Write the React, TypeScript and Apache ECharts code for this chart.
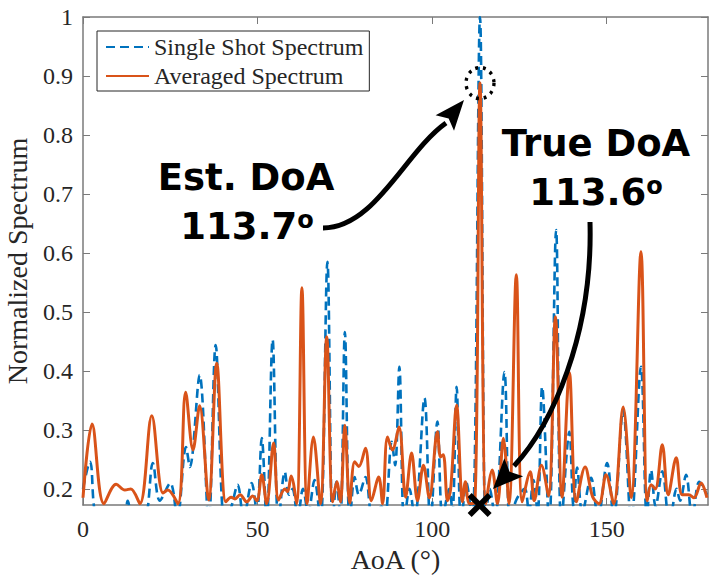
import React, { useEffect, useRef } from "react";
import * as echarts from "echarts";

// ---- data ----
const seriesNames = ["Single Shot Spectrum", "Averaged Spectrum"];

const aoaSingle = [
  0, 2, 4.5, 11.5, 12.8, 14.3, 17.5, 20, 22, 25, 27, 29.5, 30.6, 33.4, 36, 38, 40.6, 42.5, 44.3, 46,
  48.3, 49.8, 51.2, 52.6, 54.3, 56, 57.8, 59, 60, 61.5, 63, 64.5, 66.3, 68, 70, 71.5, 72.6, 73.7, 75, 76.4,
  77.8, 79, 80.9, 83, 85.5, 86.5, 88.4, 89.4, 90.6, 92, 93.5, 95, 97.8, 99.5, 101.5, 103, 104.9, 105.8, 107, 108.3,
  109.8, 111.5, 113.7, 115.3, 116.5, 118, 120.7, 122.3, 124, 126.5, 127.7, 129, 130.2, 131.5, 133.5, 135.5, 137, 139.3, 140.5, 141.5,
  143, 145.5, 147.5, 150.1, 152, 154.7, 157, 159.8, 161.5, 162.7, 164, 165.9, 168, 170, 171, 172.7, 174.5, 176.5, 178.7,
];
const singleSpectrum = [
  0.2, 0.246, 0.15, 0.15, 0.18, 0.15, 0.15, 0.244, 0.18, 0.21, 0.15, 0.271, 0.237, 0.393, 0.14, 0.444, 0.14, 0.17, 0.207, 0.15,
  0.21, 0.16, 0.286, 0.14, 0.453, 0.14, 0.229, 0.19, 0.2, 0.15, 0.2, 0.16, 0.215, 0.14, 0.585, 0.14, 0.212, 0.15, 0.466, 0.14,
  0.22, 0.19, 0.22, 0.15, 0.17, 0.15, 0.28, 0.24, 0.407, 0.14, 0.2, 0.15, 0.354, 0.14, 0.314, 0.15, 0.2, 0.16, 0.373, 0.14,
  0.21, 0.14, 1.0, 0.14, 0.2, 0.15, 0.398, 0.14, 0.18, 0.2, 0.16, 0.215, 0.16, 0.373, 0.14, 0.639, 0.14, 0.297, 0.17, 0.236,
  0.16, 0.219, 0.15, 0.244, 0.15, 0.334, 0.14, 0.407, 0.15, 0.232, 0.17, 0.23, 0.14, 0.2, 0.18, 0.224, 0.15, 0.212, 0.19,
];

const aoaAveraged = [
  0, 2.6, 6, 9.5, 12, 13.7, 16.3, 19.7, 22.9, 24.3, 27.2, 29.4, 31.5, 33.4, 36, 38.3, 40.9, 42.4, 43.5, 45,
  46.9, 48.6, 49.8, 51.2, 52.6, 54.6, 56, 57.8, 58.6, 59.6, 61.2, 62.7, 64.2, 66, 68, 69.8, 71.5, 72.7, 73.7, 75,
  76.4, 77.8, 79, 80.9, 82.6, 84.7, 85.8, 87.2, 88.6, 90.5, 92.4, 94.1, 95.8, 97.5, 99.2, 101.5, 102.4, 103.2, 104.4, 105.3,
  107, 108.7, 109.5, 110.7, 112.2, 113.7, 115.4, 117.2, 118.7, 120.4, 122, 124.1, 125.8, 128.1, 129.2, 131.3, 133.3, 135.3, 137.2, 139.3,
  141.3, 143.8, 146, 147.8, 149.8, 152, 154.7, 157, 159.8, 161.6, 162.7, 163.9, 165.9, 167.6, 169.9, 171.6, 173.5, 175, 177, 178.7,
];
const averagedSpectrum = [
  0.185, 0.31, 0.175, 0.208, 0.198, 0.2, 0.175, 0.324, 0.193, 0.198, 0.175, 0.364, 0.266, 0.341, 0.181, 0.413, 0.178, 0.186, 0.183, 0.19,
  0.178, 0.188, 0.18, 0.224, 0.175, 0.278, 0.181, 0.2, 0.195, 0.222, 0.175, 0.541, 0.175, 0.288, 0.175, 0.458, 0.178, 0.212, 0.178, 0.308,
  0.176, 0.246, 0.238, 0.269, 0.18, 0.22, 0.175, 0.288, 0.266, 0.305, 0.186, 0.261, 0.18, 0.24, 0.185, 0.297, 0.254, 0.258, 0.18, 0.2,
  0.342, 0.178, 0.212, 0.175, 0.176, 0.888, 0.175, 0.232, 0.175, 0.286, 0.175, 0.563, 0.178, 0.229, 0.18, 0.24, 0.188, 0.492, 0.186, 0.397,
  0.178, 0.237, 0.186, 0.175, 0.224, 0.175, 0.339, 0.185, 0.602, 0.18, 0.207, 0.2, 0.275, 0.19, 0.253, 0.19, 0.19, 0.185, 0.21, 0.185,
];

const xTicks = [0, 50, 100, 150];
const yTicks = [0.2, 0.3, 0.4, 0.5, 0.6, 0.7, 0.8, 0.9, 1];
const X_MIN = 0;
const X_MAX = 179;
const Y_MIN = 0.1727;
const Y_MAX = 1;

const trueDoA = 113.6;
const estDoA = 113.7;
const estPeak = 0.888;

const BLUE = "#0072BD";
const ORANGE = "#D95319";
const SERIF = "'Liberation Serif', 'Times New Roman', serif";
const SANS = "'DejaVu Sans', sans-serif";
const AXIS_COLOR = "#7a7a7a";
const TEXT_COLOR = "#262626";

function zip(xs: number[], ys: number[]) {
  return xs.map((x, i) => [x, ys[i]]);
}

function arrowHead(tip: [number, number], dir: [number, number], len: number, half: number) {
  const n = Math.hypot(dir[0], dir[1]);
  const dx = dir[0] / n;
  const dy = dir[1] / n;
  const bx = tip[0] - dx * len;
  const by = tip[1] - dy * len;
  const px = -dy;
  const py = dx;
  const nx = tip[0] - dx * len * 0.8;
  const ny = tip[1] - dy * len * 0.8;
  return [
    [tip[0], tip[1]],
    [bx + px * half, by + py * half],
    [nx, ny],
    [bx - px * half, by - py * half],
  ];
}

export default function App() {
  const ref = useRef<HTMLDivElement>(null);

  useEffect(() => {
    if (!ref.current) return;
    const chart = echarts.init(ref.current, null, { renderer: "svg" });

    const axisCommon = {
      type: "value" as const,
      axisLine: { show: true, onZero: false, lineStyle: { color: AXIS_COLOR, width: 1.5 } },
      splitLine: { show: false },
    };

    const labelRich = {
      n: { fontSize: 37, fontWeight: "bold", fontFamily: SANS, color: "#000" },
      s: { fontSize: 24, fontWeight: "bold", fontFamily: SANS, color: "#000", verticalAlign: "top" },
    };

    chart.setOption({
      animation: false,
      backgroundColor: "#ffffff",
      grid: { left: 83, right: 1, top: 17, bottom: 71, containLabel: false, outerBoundsMode: "none" },
      legend: {
        data: seriesNames,
        orient: "vertical",
        left: 97,
        top: 31,
        padding: [4, 6, 3, 8],
        itemGap: 5,
        itemWidth: 43,
        itemHeight: 14,
        borderColor: "#262626",
        borderWidth: 1,
        backgroundColor: "#fff",
        itemStyle: { opacity: 0 },
        textStyle: { fontFamily: SERIF, fontSize: 24, color: TEXT_COLOR, lineHeight: 24 },
      },
      xAxis: [
        {
          ...axisCommon,
          min: X_MIN,
          max: X_MAX,
          position: "bottom",
          name: "AoA (°)",
          nameLocation: "middle",
          nameGap: 36,
          nameTextStyle: { fontFamily: SERIF, fontSize: 28, color: TEXT_COLOR },
          axisTick: { show: true, inside: true, length: 7, customValues: xTicks, lineStyle: { color: AXIS_COLOR } },
          axisLabel: {
            show: true,
            customValues: xTicks,
            margin: 12,
            fontFamily: SERIF,
            fontSize: 24,
            color: TEXT_COLOR,
          },
        },
        {
          ...axisCommon,
          min: X_MIN,
          max: X_MAX,
          position: "top",
          axisTick: { show: true, inside: true, length: 7, customValues: xTicks, lineStyle: { color: AXIS_COLOR } },
          axisLabel: { show: false },
        },
      ],
      yAxis: [
        {
          ...axisCommon,
          min: Y_MIN,
          max: Y_MAX,
          position: "left",
          name: "Normalized Spectrum",
          nameLocation: "middle",
          nameGap: 52,
          nameTextStyle: { fontFamily: SERIF, fontSize: 28, color: TEXT_COLOR },
          axisTick: { show: true, inside: true, length: 7, customValues: yTicks, lineStyle: { color: AXIS_COLOR } },
          axisLabel: {
            show: true,
            customValues: yTicks,
            margin: 10,
            fontFamily: SERIF,
            fontSize: 24,
            color: TEXT_COLOR,
            formatter: (v: number) => String(Math.round(v * 10) / 10),
          },
        },
        {
          ...axisCommon,
          min: Y_MIN,
          max: Y_MAX,
          position: "right",
          axisTick: { show: true, inside: true, length: 7, customValues: yTicks, lineStyle: { color: AXIS_COLOR } },
          axisLabel: { show: false },
        },
      ],
      series: [
        {
          name: seriesNames[0],
          type: "line",
          data: zip(aoaSingle, singleSpectrum),
          smooth: 0.35,
          symbol: "none",
          clip: true,
          lineStyle: { color: BLUE, width: 2.6, type: [9, 5] },
          itemStyle: { color: BLUE },
          z: 2,
        },
        {
          name: seriesNames[1],
          type: "line",
          data: zip(aoaAveraged, averagedSpectrum),
          smooth: 0.35,
          symbol: "none",
          clip: true,
          lineStyle: { color: ORANGE, width: 3 },
          itemStyle: { color: ORANGE },
          z: 3,
        },
        {
          name: "Estimated peak",
          type: "scatter",
          data: [[estDoA, estPeak]],
          symbol: "circle",
          symbolSize: [28, 31],
          clip: false,
          silent: true,
          itemStyle: {
            color: "transparent",
            borderColor: "#000",
            borderWidth: 3.5,
            borderType: [3, 5],
            opacity: 1,
          },
          z: 5,
        },
        {
          name: "True DoA",
          type: "scatter",
          data: [[trueDoA, Y_MIN]],
          symbol: "path://M0,4 L4,0 L12,8 L20,0 L24,4 L16,12 L24,20 L20,24 L12,16 L4,24 L0,20 L8,12 Z",
          symbolSize: 24,
          clip: false,
          silent: true,
          itemStyle: { color: "#000", opacity: 1 },
          z: 6,
        },
      ],
      graphic: [
        {
          type: "bezierCurve",
          z: 100,
          shape: { x1: 323, y1: 228, cpx1: 375, cpy1: 228, cpx2: 405, cpy2: 152, x2: 446, y2: 123 },
          style: { stroke: "#000", lineWidth: 5, fill: null },
        },
        {
          type: "polygon",
          z: 100,
          shape: { points: arrowHead([464, 100], [20, -24], 30, 12) },
          style: { fill: "#000" },
        },
        {
          type: "bezierCurve",
          z: 100,
          shape: { x1: 590, y1: 222, cpx1: 593, cpy1: 335, cpx2: 552, cpy2: 425, x2: 514, y2: 466 },
          style: { stroke: "#000", lineWidth: 5, fill: null },
        },
        {
          type: "polygon",
          z: 100,
          shape: { points: arrowHead([493, 489], [-21, 22], 30, 13) },
          style: { fill: "#000" },
        },
        {
          type: "text",
          z: 100,
          x: 246,
          y: 177,
          style: {
            text: "Est. DoA",
            fontSize: 37,
            fontWeight: "bold",
            fontFamily: SANS,
            fill: "#000",
            textAlign: "center",
            textVerticalAlign: "middle",
          },
        },
        {
          type: "text",
          z: 100,
          x: 247,
          y: 226,
          style: {
            text: "{n|113.7}{s|o}",
            rich: labelRich,
            textAlign: "center",
            textVerticalAlign: "middle",
          },
        },
        {
          type: "text",
          z: 100,
          x: 596,
          y: 143,
          style: {
            text: "True DoA",
            fontSize: 37,
            fontWeight: "bold",
            fontFamily: SANS,
            fill: "#000",
            textAlign: "center",
            textVerticalAlign: "middle",
          },
        },
        {
          type: "text",
          z: 100,
          x: 596,
          y: 192,
          style: {
            text: "{n|113.6}{s|o}",
            rich: labelRich,
            textAlign: "center",
            textVerticalAlign: "middle",
          },
        },
      ],
    });

    return () => chart.dispose();
  }, []);

  return (
    <div
      ref={ref}
      style={{ position: "fixed", left: 0, top: 0, width: 709, height: 576, background: "#fff" }}
    />
  );
}
